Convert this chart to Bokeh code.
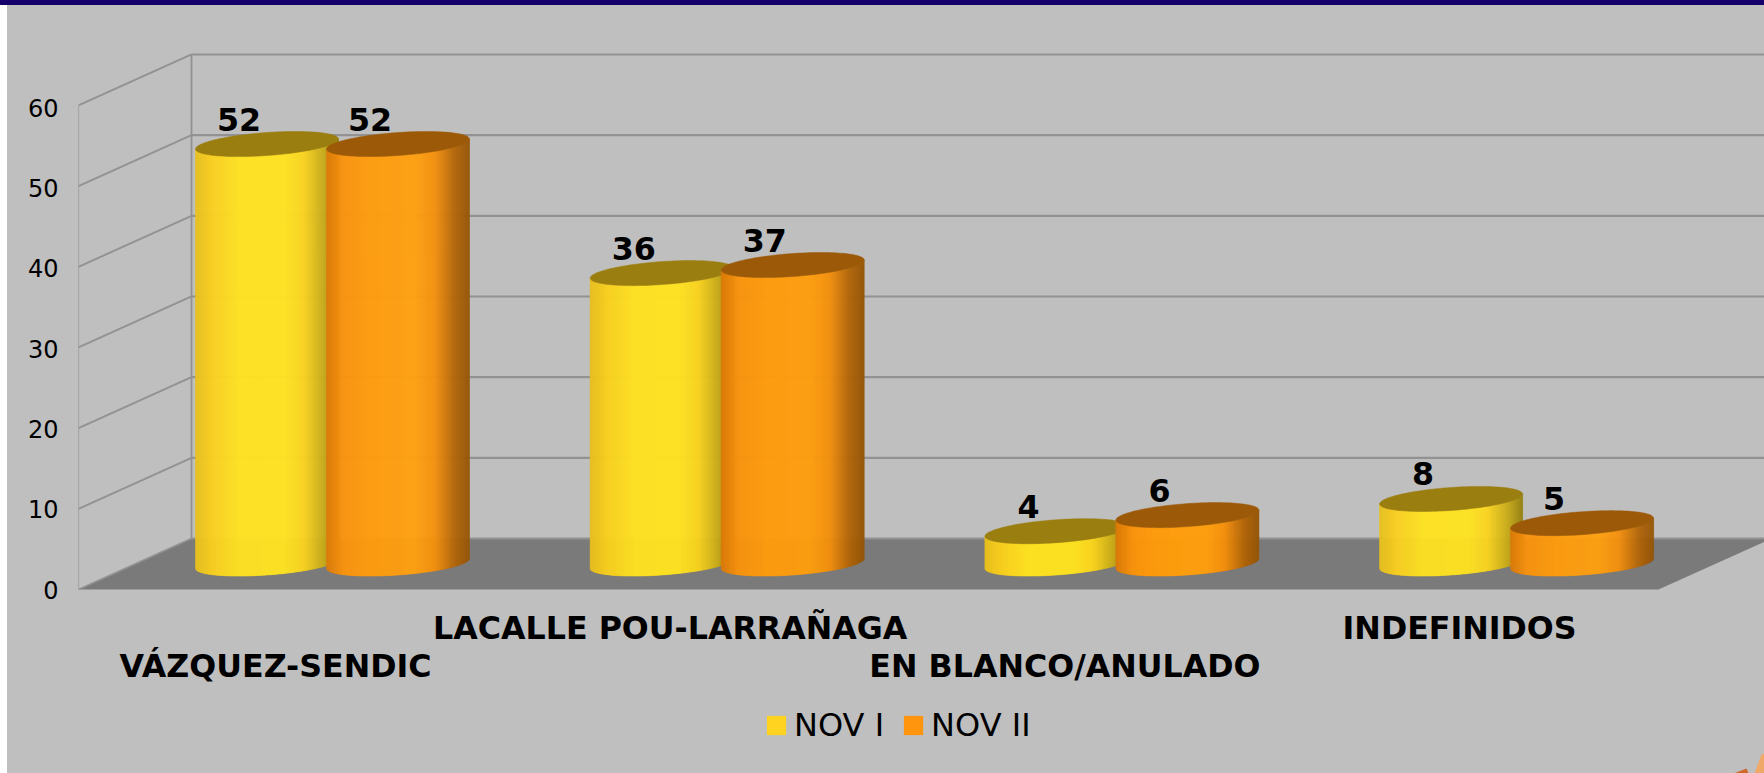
import numpy as np
from bokeh.plotting import figure
from bokeh.embed import file_html
from bokeh.resources import INLINE
from bokeh.models import Range1d, LinearAxis, FixedTicker, Legend, LegendItem, InlineStyleSheet
from bokeh.core.properties import value

categories = ["VÁZQUEZ-SENDIC", "LACALLE POU-LARRAÑAGA", "EN BLANCO/ANULADO", "INDEFINIDOS"]
nov1 = [52, 36, 4, 8]
nov2 = [52, 37, 6, 5]
series_names = ["NOV I", "NOV II"]
y_ticks = [0, 10, 20, 30, 40, 50, 60]

W, H = 1764, 773
OX, OY = 7, 5       # page offset of the figure: white strip on the left, band on top
LEFT = 78
Y0 = 589.0          # pixel of value 0 on the front edge
PX = 8.067          # pixels per unit
LABEL_PX = 8.03     # the tick labels sit on a slightly tighter pitch than the grid
DEPTH_X, DEPTH_Y = 113.0, 51.0
R = 71.5
SHEAR = 0.07
B = 11.5
GROUP_STEP = 394.7
FIRST = 266.5
BAR_STEP = 131.0
BASE_LIFT = 26.0    # pixels from front edge up to the cylinder base centre

GRID = "#929292"
BG = "#bfbfbf"
BAND = "#16006b"

def yv(px):
    return (Y0 - px) / PX

p = figure(width=W - OX, height=H - OY, output_backend="svg", toolbar_location=None,
           x_range=Range1d(0, W - LEFT), y_range=Range1d(yv(H), yv(OY)),
           min_border_left=LEFT - OX, min_border_right=0, min_border_top=0, min_border_bottom=0,
           x_axis_location=None, y_axis_location=None,
           background_fill_alpha=0, border_fill_alpha=0, outline_line_color=None)
p.styles = {"position": "absolute", "left": f"{OX}px", "top": f"{OY}px", "background": BG}
p.stylesheets = [InlineStyleSheet(css=(
    f":host::before{{content:'';position:absolute;left:-{OX}px;top:-{OY}px;"
    f"width:{W}px;height:{OY}px;background:{BAND};}}"))]
p.grid.visible = False
p.extra_y_ranges = {"labels": Range1d((Y0 - H) / LABEL_PX, (Y0 - OY) / LABEL_PX)}

def X(px):
    return np.asarray(px, dtype=float) - LEFT

depth_v = DEPTH_Y / PX

# floor
p.patch(X([78, 191, 1771, 1658]), [0, depth_v, depth_v, 0], fill_color="#7a7a7a", line_color=None)

# walls and grid lines
for t in y_ticks:
    p.line(X([78, 191]), [t, t + depth_v], line_color=GRID, line_width=1.9)
    p.line(X([191, W]), [t + depth_v, t + depth_v], line_color=GRID, line_width=2.2)
p.line(X([78, 78]), [0, 60], line_color=GRID, line_width=1.2)
p.line(X([191, 191]), [depth_v, 60 + depth_v], line_color=GRID, line_width=1.8)

ax = LinearAxis(y_range_name="labels", ticker=FixedTicker(ticks=y_ticks), axis_line_color=None,
                major_tick_line_color=None, minor_tick_line_color=None,
                major_label_text_font="DejaVu Sans", major_label_text_font_size="24px",
                major_label_text_color="#000000", major_label_standoff=14)
p.add_layout(ax, "left")

def shade(stops, f):
    fs = [s[0] for s in stops]
    r = np.interp(f, fs, [s[1][0] for s in stops])
    g = np.interp(f, fs, [s[1][1] for s in stops])
    b = np.interp(f, fs, [s[1][2] for s in stops])
    return "#%02x%02x%02x" % (int(r), int(g), int(b))

YEL = [(0, (232, 192, 30)), (0.12, (250, 208, 32)), (0.3, (255, 226, 34)), (0.62, (255, 228, 34)),
       (0.76, (250, 212, 32)), (0.9, (200, 170, 26)), (1, (150, 128, 16))]
ORA = [(0, (218, 122, 10)), (0.12, (250, 148, 14)), (0.3, (255, 156, 14)), (0.62, (255, 160, 16)),
       (0.76, (245, 145, 14)), (0.9, (178, 102, 10)), (1, (150, 86, 8))]
TOPS = ["#9b7e10", "#9c5a08"]

def cylinder(cx, val, stops, top):
    base_c = Y0 - BASE_LIFT
    top_c = base_c - val * PX
    xs, ys, cs = [], [], []
    step = 1.0
    edges = np.arange(-R, R + 0.01, step)
    def lower(dx, c):
        return c + B * np.sqrt(np.clip(1 - (dx / R) ** 2, 0, 1)) - SHEAR * dx
    for a, b in zip(edges[:-1], edges[1:]):
        dxs = np.linspace(a, b, 3)
        bot = lower(dxs, base_c)
        tp = lower(dxs, top_c)
        xs.append(X(np.concatenate([cx + dxs, cx + dxs[::-1]])).tolist())
        ys.append(yv(np.concatenate([tp, bot[::-1]])).tolist())
        cs.append(shade(stops, ((a + b) / 2 + R) / (2 * R)))
    p.patches(xs, ys, fill_color=cs, line_color=cs, line_width=0.6)
    t = np.linspace(0, 2 * np.pi, 121)
    ex = R * np.cos(t)
    ey = B * np.sin(t) - SHEAR * ex
    p.patch(X(cx + ex), yv(top_c + ey), fill_color=top, line_color=top, line_width=0.5)

series = [nov1, nov2]
lab_x, lab_y, lab_t = [], [], []
for i in range(len(categories)):
    for s, vals in enumerate(series):
        cx = FIRST + i * GROUP_STEP + s * BAR_STEP
        cylinder(cx, vals[i], YEL if s == 0 else ORA, TOPS[s])
        lab_x.append(float(X(cx - 28)))
        lab_y.append(vals[i] + BASE_LIFT / PX)
        lab_t.append(str(vals[i]))

p.text(lab_x, lab_y, text=lab_t, text_font=value("DejaVu Sans"), text_font_style="bold",
       text_font_size="31.7px", text_align="center", text_baseline="alphabetic",
       text_color="#000000", y_offset=-25)

# category labels, staggered on two rows
cat_x = [float(X(FIRST + BAR_STEP / 2 - 57 + i * GROUP_STEP)) for i in range(4)]
cat_y = [yv(665), yv(627), yv(665), yv(627)]
p.text(cat_x, cat_y, text=categories, text_font=value("DejaVu Sans"), text_font_style="bold",
       text_font_size="31.7px", text_align="center", text_baseline="alphabetic", text_color="#000000")

# legend
nan = [float("nan")]
r1 = p.quad(left=nan, right=nan, top=nan, bottom=nan, fill_color="#ffd320", line_color=None)
r2 = p.quad(left=nan, right=nan, top=nan, bottom=nan, fill_color="#ff950e", line_color=None)
leg = Legend(items=[LegendItem(label=series_names[0], renderers=[r1]),
                    LegendItem(label=series_names[1], renderers=[r2])],
             orientation="horizontal", location=(686, 29), background_fill_alpha=0,
             border_line_color=None, label_text_font="DejaVu Sans", label_text_font_size="32px",
             label_text_color="#000000", glyph_width=24, glyph_height=24, label_standoff=6,
             spacing=17, padding=0, margin=0, label_height=24)
p.add_layout(leg, "center")

# corner ornament
p.patch(X([1733, 1746, 1748]), yv(np.array([773, 768, 773])), fill_color="#d0682a", line_color=None)
p.patch(X([1754, 1761, 1764, 1764]), yv(np.array([773, 754, 753, 773])), fill_color="#f0a868", line_color=None)

open("out.html", "w").write(file_html(p, INLINE))
